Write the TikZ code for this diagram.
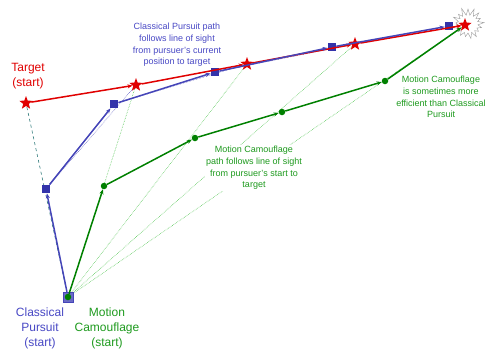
\documentclass[tikz,border=0pt]{standalone}
\usepackage{fontspec}
\setmainfont{Liberation Sans}
\definecolor{cpBlue}{HTML}{3333AA}
\definecolor{cpLine}{HTML}{4545B8}
\definecolor{cpText}{HTML}{4848C4}
\definecolor{tgRed}{HTML}{E00000}
\definecolor{mcGreen}{HTML}{008000}
\definecolor{mcText}{HTML}{1E9A1E}
\definecolor{losGreen}{HTML}{5CC85C}
\definecolor{losTeal}{HTML}{2E7A7A}
\usetikzlibrary{arrows.meta, backgrounds, shapes.geometric, shapes.symbols}

\begin{document}
\begin{tikzpicture}[x=1pt, y=-1pt,
  tstar/.style={star, star points=5, star point ratio=2.4, fill=tgRed, inner sep=0pt, minimum size=14pt},
  psq/.style={rectangle, fill=cpBlue, inner sep=0pt, minimum size=8.5pt},
  pdot/.style={circle, fill=mcGreen, inner sep=0pt, minimum size=6.5pt},
  tpath/.style={tgRed, line width=1.5pt, -{Stealth[length=5pt, width=4pt]}},
  cpath/.style={cpLine, line width=1.5pt, -{Stealth[length=5pt, width=4pt]}},
  mpath/.style={mcGreen, line width=1.5pt, -{Stealth[length=5pt, width=4pt]}},
  los/.style={losGreen, densely dotted, line width=0.6pt},
  lbl/.style={font=\fontsize{12}{15}\selectfont, align=center},
  note/.style={font=\fontsize{9}{11.6}\selectfont, align=center, inner sep=1pt}]
  \useasboundingbox (0,0) rectangle (500,360);

  % target
  \node[draw=gray!80, fill=white, starburst, starburst points=17, starburst point height=8pt,
    minimum width=36pt, minimum height=34pt, random starburst=11] (boom) at (468,24) {};
  \foreach \n/\x/\y in {0/26/103, 1/136/85, 2/247/64, 3/355/44, 4/465/25}
    \node[tstar] (t\n) at (\x,\y) {};
  % classical pursuit
  \node[psq, minimum size=10pt, draw=cpLine, fill=cpLine!80] (b0) at (68,297) {};
  \foreach \n/\x/\y in {1/46/189, 2/114/104, 3/215/72, 4/332/47, 5/449/26}
    \node[psq] (b\n) at (\x,\y) {};
  % motion camouflage
  \foreach \n/\x/\y in {0/68/297, 1/104/186, 2/195/138, 3/282/112, 4/385/81}
    \node[pdot] (g\n) at (\x,\y) {};

  \foreach \a/\b in {0/1, 1/2, 2/3, 3/4}
    \draw[tpath] (t\a) -- (t\b);
  \foreach \a/\b in {0/1, 1/2, 2/3, 3/4, 4/5}
    \draw[cpath] (b\a) -- (b\b);
  \foreach \a/\b in {0/1, 1/2, 2/3, 3/4}
    \draw[mpath] (g\a) -- (g\b);
  \draw[mpath] (g4) -- (t4);

  % lines of sight
  \begin{scope}[on background layer]
    \draw[losTeal, dashed, line width=0.6pt] (b0) -- (t0);
    \foreach \n in {1,...,4}
      \draw[los] (g0.center) -- (t\n.center);
    \foreach \n in {1,...,4}
      \draw[cpLine, densely dotted, line width=0.5pt] (b\n) -- (t\n);
  \end{scope}

  \node[lbl, text=tgRed] (tlabel) at (28,76) {Target\\(start)};
  \node[lbl, text=cpText] (clabel) at (40,328) {Classical\\Pursuit\\(start)};
  \node[lbl, text=mcText] (mlabel) at (107,328) {Motion\\Camouflage\\(start)};
  \node[note, text=cpText] (cnote) at (177,45) {Classical Pursuit path\\follows line of sight\\from pursuer's current\\position to target};
  \node[note, text=mcText, fill=white] (mnote) at (254,168) {Motion Camouflage\\path follows line of sight\\from pursuer's start to\\target};
  \node[note, text=mcText] (enote) at (441,97) {Motion Camouflage\\is sometimes more\\efficient than Classical\\Pursuit};
\end{tikzpicture}
\end{document}
